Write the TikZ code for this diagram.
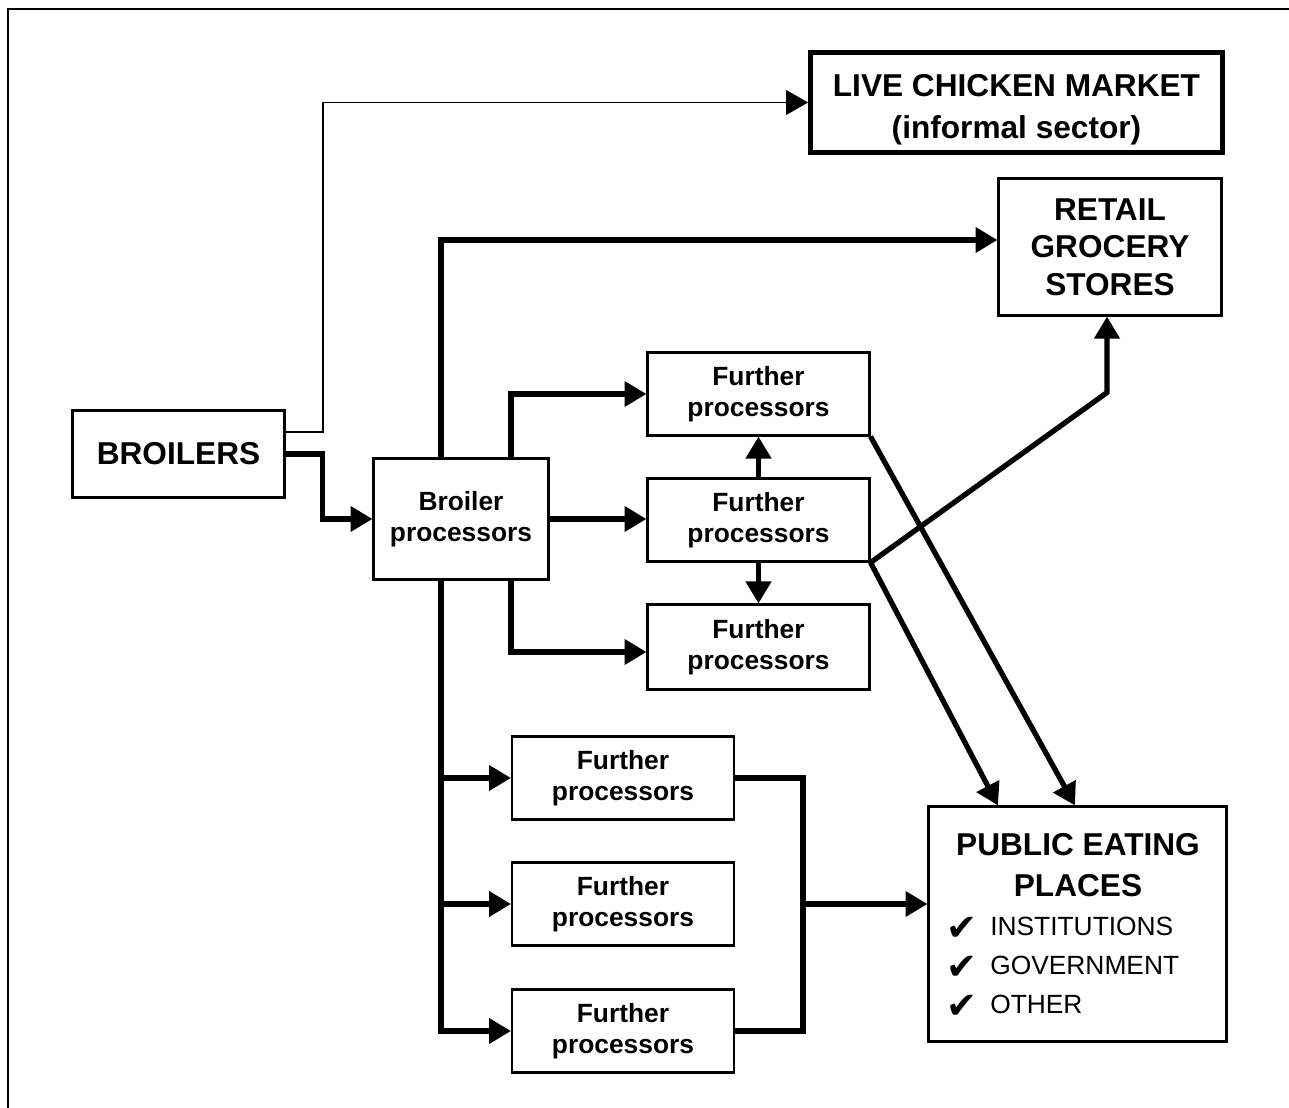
\documentclass[tikz,border=0pt]{standalone}
\usepackage{fontspec}
\setmainfont{Liberation Sans}
\newfontfamily\symbolfont{DejaVu Sans}
\usetikzlibrary{arrows.meta}
\newcommand{\chk}{\makebox[25pt][l]{\raisebox{-3pt}{\symbolfont\fontsize{21}{21}\selectfont ✔}}}

\tikzset{
  box/.style={draw, line width=1.2pt, align=center, inner sep=0pt},
  bigtext/.style={font=\fontsize{18}{22}\selectfont\bfseries},
  smalltext/.style={font=\fontsize{15}{18}\selectfont\bfseries},
  procbox/.style={box, smalltext, minimum width=4.44cm, minimum height=1.66cm},
  flow/.style={->, line width=3pt},
}

\begin{document}
\begin{tikzpicture}[x=0.02cm, y=-0.02cm, >={Triangle[length=12.5pt,width=14pt]}]
\useasboundingbox (0,0) rectangle (1289,1108);
\draw[line width=1.7pt] (1289,9) -- (8,9) -- (8,1108);

% boxes
\node[box, bigtext, minimum width=4.24cm, minimum height=1.74cm] (broilers) at (178.5,454) {BROILERS};
\node[box, line width=2.8pt, minimum width=8.24cm, minimum height=2cm] (live) at (1016.5,102.5) {};
\node[align=center, inner sep=0pt, font=\fontsize{18}{24}\selectfont\bfseries]
  (livetext) at ([yshift=-0.15cm]live.center) {LIVE CHICKEN MARKET\\(informal sector)};
\node[box, font=\fontsize{18}{21.3}\selectfont\bfseries, minimum width=4.46cm, minimum height=2.74cm] (retail) at (1110,247) {RETAIL\\GROCERY\\STORES};
\node[box, smalltext, minimum width=3.5cm, minimum height=2.42cm] (bproc) at (461,519) {Broiler\\processors};
\node[procbox] (fpA) at (758.5,394) {Further\\processors};
\node[procbox] (fpB) at (758.5,520) {Further\\processors};
\node[procbox, minimum height=1.7cm] (fpC) at (758.5,647) {Further\\processors};
\node[procbox] (fpD) at (623,778) {Further\\processors};
\node[procbox] (fpE) at (623,904) {Further\\processors};
\node[procbox] (fpF) at (623,1031) {Further\\processors};
\node[box, minimum width=5.96cm, minimum height=4.7cm] (pep) at (1077.5,924) {};
\node[align=center, inner sep=0pt, font=\fontsize{18}{23.2}\selectfont\bfseries, anchor=base]
  (peptitle) at (1078,896) {PUBLIC EATING\\PLACES};
\node[align=left, inner sep=0pt, font=\fontsize{15}{22}\selectfont, anchor=base west]
  (peplist) at (946,1013) {\chk INSTITUTIONS\\\chk GOVERNMENT\\\chk OTHER};

% connectors
\coordinate (trunk) at ([xshift=-0.4cm]bproc.south);
\coordinate (merge) at ([xshift=1.36cm]fpD.east);
\draw[->, line width=1.1pt] ([yshift=0.44cm]broilers.east) -- ++(37,0) |- (live.west);
\draw[flow] (broilers.east) -- ++(37,0) |- (bproc.west);
\draw[flow] ([xshift=-0.4cm]bproc.north) |- ([yshift=0.14cm]retail.west);
\draw[flow] (trunk) |- (fpF.west);
\draw[flow] (trunk |- fpD.west) -- (fpD.west);
\draw[flow] (trunk |- fpE.west) -- (fpE.west);
\draw[flow] ([xshift=1cm]bproc.north) |- (fpA.west);
\draw[flow] (bproc.east) -- (bproc.east -| fpB.west);
\draw[flow] ([xshift=1cm]bproc.south) |- ([yshift=-0.1cm]fpC.west);
\draw[flow] (fpB.north) -- (fpA.south);
\draw[flow] (fpB.south) -- (fpC.north);
\draw[flow] (fpA.south east) -- ([xshift=-0.05cm]pep.north);
\draw[flow] (fpB.south east) -- ([xshift=-1.59cm]pep.north);
\draw[flow] (fpB.south east) -- ([xshift=-0.06cm, yshift=-1.52cm]retail.south) -- ([xshift=-0.06cm]retail.south);
\draw[line width=3pt] (fpD.east) -| (merge |- fpF.east) -- (fpF.east);
\draw[flow] (merge |- fpE.east) -- (fpE.east -| pep.west);
\end{tikzpicture}
\end{document}
